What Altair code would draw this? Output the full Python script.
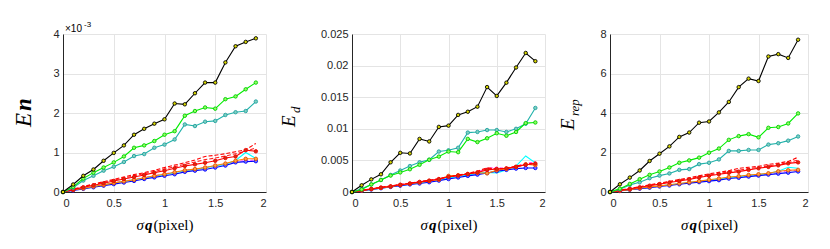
import altair as alt
import pandas as pd

xs = [round(0.1 * i, 1) for i in range(20)]

# Panel 1: En (x 1e-3)
en_black = [0, 0.19, 0.41, 0.57, 0.79, 0.99, 1.18, 1.45, 1.60, 1.73, 1.84, 2.24, 2.22, 2.50, 2.77, 2.77, 3.28, 3.69, 3.80, 3.89]
en_green = [0, 0.13, 0.34, 0.49, 0.62, 0.75, 0.90, 1.12, 1.18, 1.29, 1.45, 1.54, 1.93, 2.05, 2.14, 2.11, 2.35, 2.42, 2.60, 2.77]
en_teal = [0, 0.11, 0.29, 0.41, 0.54, 0.64, 0.76, 0.91, 0.96, 1.12, 1.20, 1.33, 1.71, 1.67, 1.78, 1.80, 1.95, 2.02, 2.05, 2.29]
en_reddash1 = [0, 0.07, 0.14, 0.20, 0.26, 0.32, 0.38, 0.44, 0.49, 0.55, 0.62, 0.68, 0.74, 0.81, 0.90, 0.93, 0.97, 1.02, 1.07, 1.23]
en_reddash2 = [0, 0.06, 0.13, 0.19, 0.24, 0.30, 0.35, 0.41, 0.46, 0.52, 0.58, 0.64, 0.70, 0.76, 0.82, 0.86, 0.91, 0.97, 1.03, 1.12]
en_red = [0, 0.06, 0.12, 0.17, 0.22, 0.28, 0.33, 0.38, 0.43, 0.49, 0.54, 0.60, 0.66, 0.70, 0.74, 0.79, 0.86, 0.90, 1.06, 1.03]
en_orange = [0, 0.05, 0.09, 0.14, 0.18, 0.23, 0.27, 0.31, 0.36, 0.41, 0.45, 0.50, 0.55, 0.58, 0.62, 0.67, 0.72, 0.79, 0.84, 0.84]
en_cyan = [0, 0.05, 0.09, 0.14, 0.18, 0.22, 0.27, 0.31, 0.35, 0.40, 0.44, 0.49, 0.54, 0.57, 0.61, 0.66, 0.70, 0.80, 1.00, 0.85]
en_magenta = [0, 0.05, 0.10, 0.14, 0.19, 0.23, 0.28, 0.32, 0.37, 0.41, 0.46, 0.50, 0.55, 0.58, 0.62, 0.66, 0.71, 0.77, 0.80, 0.81]
en_blue = [0, 0.04, 0.08, 0.12, 0.16, 0.20, 0.24, 0.28, 0.33, 0.37, 0.41, 0.45, 0.51, 0.54, 0.57, 0.62, 0.67, 0.75, 0.77, 0.78]

# Panel 2: Ed
ed_black = [0, 0.00106, 0.0020, 0.0028, 0.0047, 0.0062, 0.0061, 0.0084, 0.0080, 0.0103, 0.0105, 0.0122, 0.0127, 0.0135, 0.0166, 0.0152, 0.0173, 0.0197, 0.0220, 0.0207]
ed_teal = [0, 0.0005, 0.0012, 0.0019, 0.0027, 0.0034, 0.0041, 0.0047, 0.0051, 0.0064, 0.0066, 0.0070, 0.0094, 0.0095, 0.0098, 0.0098, 0.0095, 0.0100, 0.0108, 0.0133]
ed_green = [0, 0.0004, 0.0012, 0.0019, 0.0026, 0.0031, 0.0036, 0.0043, 0.0051, 0.0056, 0.0064, 0.0063, 0.0084, 0.0079, 0.0085, 0.0093, 0.0089, 0.0095, 0.0109, 0.0110]
ed_reddash1 = [0, 0.00025, 0.0005, 0.00075, 0.00095, 0.0012, 0.0014, 0.00165, 0.00185, 0.0021, 0.00245, 0.00265, 0.00295, 0.0033, 0.00385, 0.0036, 0.0038, 0.0041, 0.0044, 0.0046]
ed_reddash2 = [0, 0.00024, 0.00048, 0.0007, 0.00092, 0.00115, 0.00138, 0.0016, 0.0018, 0.00205, 0.0024, 0.0026, 0.0029, 0.0032, 0.0037, 0.0037, 0.0037, 0.004, 0.0043, 0.0045]
ed_red = [0, 0.00025, 0.0005, 0.0007, 0.0009, 0.00115, 0.00135, 0.0016, 0.0018, 0.00205, 0.0024, 0.0026, 0.00285, 0.0031, 0.0035, 0.00365, 0.00375, 0.004, 0.0043, 0.0045]
ed_orange = [0, 0.00025, 0.00045, 0.00065, 0.00085, 0.0011, 0.0013, 0.0015, 0.00175, 0.00195, 0.00255, 0.00265, 0.00285, 0.00305, 0.00295, 0.00345, 0.00365, 0.00395, 0.0044, 0.00425]
ed_cyan = [0, 0.00022, 0.00042, 0.00062, 0.00082, 0.00105, 0.00125, 0.00145, 0.00165, 0.0019, 0.0022, 0.00245, 0.0027, 0.00295, 0.0031, 0.003, 0.0035, 0.0041, 0.0057, 0.0046]
ed_magenta = [0, 0.00024, 0.00046, 0.00068, 0.0009, 0.00115, 0.00137, 0.0016, 0.0018, 0.00205, 0.00235, 0.0026, 0.00285, 0.00315, 0.00375, 0.0039, 0.0037, 0.004, 0.0045, 0.0048]
ed_blue = [0, 0.0002, 0.0004, 0.0006, 0.0008, 0.001, 0.0012, 0.00135, 0.00155, 0.0018, 0.00205, 0.0023, 0.00255, 0.00275, 0.003, 0.0033, 0.0035, 0.0037, 0.0038, 0.0038]

# Panel 3: Erep
er_black = [0, 0.39, 0.73, 1.09, 1.57, 1.94, 2.31, 2.79, 3.01, 3.51, 3.57, 4.03, 4.56, 5.31, 5.74, 5.62, 6.86, 6.98, 6.79, 7.71]
er_green = [0, 0.17, 0.41, 0.65, 0.87, 1.04, 1.24, 1.48, 1.60, 1.74, 1.99, 2.20, 2.64, 2.83, 2.93, 2.77, 3.25, 3.29, 3.47, 3.98]
er_teal = [0, 0.14, 0.36, 0.49, 0.70, 0.83, 0.94, 1.12, 1.16, 1.41, 1.48, 1.65, 2.08, 2.08, 2.13, 2.13, 2.40, 2.47, 2.60, 2.81]
er_reddash1 = [0, 0.09, 0.18, 0.27, 0.36, 0.45, 0.54, 0.63, 0.72, 0.82, 0.92, 1.00, 1.08, 1.20, 1.25, 1.30, 1.40, 1.46, 1.55, 1.76]
er_reddash2 = [0, 0.09, 0.17, 0.26, 0.34, 0.43, 0.51, 0.60, 0.68, 0.77, 0.86, 0.94, 1.02, 1.10, 1.18, 1.24, 1.32, 1.40, 1.48, 1.62]
er_red = [0, 0.08, 0.16, 0.24, 0.32, 0.40, 0.48, 0.56, 0.64, 0.73, 0.82, 0.90, 0.97, 1.03, 1.12, 1.20, 1.27, 1.35, 1.45, 1.50]
er_orange = [0, 0.06, 0.12, 0.19, 0.25, 0.31, 0.37, 0.43, 0.49, 0.55, 0.62, 0.68, 0.76, 0.80, 0.86, 0.90, 0.95, 1.05, 1.10, 1.12]
er_cyan = [0, 0.06, 0.12, 0.18, 0.24, 0.30, 0.36, 0.42, 0.48, 0.54, 0.60, 0.66, 0.73, 0.78, 0.84, 0.88, 0.94, 1.05, 1.25, 1.20]
er_magenta = [0, 0.06, 0.11, 0.17, 0.23, 0.29, 0.34, 0.40, 0.46, 0.52, 0.58, 0.64, 0.71, 0.75, 0.81, 0.86, 0.92, 1.00, 1.08, 1.10]
er_blue = [0, 0.05, 0.11, 0.17, 0.22, 0.28, 0.33, 0.39, 0.45, 0.50, 0.55, 0.60, 0.68, 0.72, 0.78, 0.83, 0.88, 0.93, 0.98, 1.04]

x_ticks = [0, 0.5, 1, 1.5, 2]
en_ticks = [0, 1, 2, 3, 4]
ed_ticks = [0, 0.005, 0.01, 0.015, 0.02, 0.025]
er_ticks = [0, 2, 4, 6, 8]

# style per series: (line color, dash, marker stroke, marker fill)
STYLES = {
    "magenta": ("#ff40ff", [3, 2], None, None),
    "cyan": ("#00ffff", None, None, None),
    "blue": ("#0000ff", None, "#0000ff", "#7070ff"),
    "orange": ("#ff8000", None, "#e05000", "#ffa040"),
    "reddash2": ("#ff2020", [4, 2], None, None),
    "reddash1": ("#ff0000", [4, 2], None, None),
    "red": ("#ff0000", None, "#ee0000", "#d03010"),
    "teal": ("#20b2aa", None, "#20a0a0", "#80d0c0"),
    "green": ("#00ee00", None, "#00cc00", "#90ff60"),
    "black": ("#000000", None, "#000000", "#d8d800"),
}
ORDER = ["magenta", "cyan", "blue", "orange", "reddash2", "reddash1", "red", "teal", "green", "black"]

PANELS = [
    {"series": {"black": en_black, "green": en_green, "teal": en_teal, "reddash1": en_reddash1,
                "reddash2": en_reddash2, "red": en_red, "orange": en_orange, "cyan": en_cyan,
                "magenta": en_magenta, "blue": en_blue},
     "ticks": en_ticks, "w": 203},
    {"series": {"black": ed_black, "green": ed_green, "teal": ed_teal, "reddash1": ed_reddash1,
                "reddash2": ed_reddash2, "red": ed_red, "orange": ed_orange, "cyan": ed_cyan,
                "magenta": ed_magenta, "blue": ed_blue},
     "ticks": ed_ticks, "w": 193},
    {"series": {"black": er_black, "green": er_green, "teal": er_teal, "reddash1": er_reddash1,
                "reddash2": er_reddash2, "red": er_red, "orange": er_orange, "cyan": er_cyan,
                "magenta": er_magenta, "blue": er_blue},
     "ticks": er_ticks, "w": 198},
]

H = 158
AX = "#262626"


def enc(ticks):
    x = alt.X("x:Q", scale=alt.Scale(domain=[0, 2], nice=False),
              axis=alt.Axis(values=x_ticks, format="~g", title=None))
    y = alt.Y("y:Q", scale=alt.Scale(domain=[ticks[0], ticks[-1]], nice=False),
              axis=alt.Axis(values=ticks, format="~g", title=None))
    return x, y


def txt(text, x, y, size, style="normal", weight="normal", font="Liberation Serif",
        angle=0, align="left", baseline="alphabetic"):
    kw = dict(text=text, fontSize=size, fontStyle=style, fontWeight=weight, font=font,
              align=align, baseline=baseline, color="#000000")
    if angle:
        kw["angle"] = angle
    return alt.Chart(pd.DataFrame({"k": [0]})).mark_text(**kw).encode(
        x=alt.value(x), y=alt.value(y))


def build(p, idx):
    x, y = enc(p["ticks"])
    layers = []
    for name in ORDER:
        col, dash, ms, mf = STYLES[name]
        df = pd.DataFrame({"x": xs, "y": p["series"][name]})
        lk = dict(color=col, strokeWidth=1.1, clip=True)
        if dash:
            lk["strokeDash"] = dash
        layers.append(alt.Chart(df).mark_line(**lk).encode(x=x, y=y))
        if ms:
            layers.append(alt.Chart(df).mark_circle(size=12, fill=mf, stroke=ms, strokeWidth=0.9,
                                                      opacity=1).encode(x=x, y=y))
    w = p["w"]
    # x axis title: sigma q (pixel)
    x0 = w / 2 - 28
    yb = H + 38
    layers.append(txt("σ", x0, yb, 15, style="italic"))
    layers.append(txt("q", x0 + 8.5, yb, 15, style="italic", weight="bold"))
    layers.append(txt("(pixel)", x0 + 17, yb, 15))
    if idx == 0:
        layers.append(txt("E", -32, 93, 23, style="italic", angle=270))
        layers.append(txt("n", -32, 77, 23, style="italic", weight="bold", angle=270))
        layers.append(txt("×10", 2, -2, 10, font="Liberation Sans"))
        layers.append(txt("-3", 21, -7, 8, font="Liberation Sans"))
    elif idx == 1:
        layers.append(txt("E", -57, 93, 19, style="italic", angle=270))
        layers.append(txt("d", -52, 79, 13, style="italic", angle=270))
    else:
        layers.append(txt("E", -36, 96, 19, style="italic", angle=270))
        layers.append(txt("rep", -31, 82, 13, style="italic", angle=270))
    return alt.layer(*layers).properties(width=w, height=H)


charts = [build(p, i) for i, p in enumerate(PANELS)]
chart = alt.hconcat(*charts, spacing=14).properties(
    padding={"left": 5, "top": 13, "right": 5, "bottom": 5}
).configure_view(stroke=None).configure_axis(
    labelFont="Liberation Sans", labelFontSize=11, labelColor=AX,
    domainColor=AX, domainWidth=1, ticks=False, labelPadding=4,
    gridColor="#e4e4e4", gridWidth=1,
).configure_axisX(labelPadding=5)

chart.save("out.html", embed_options={"renderer": "svg", "actions": False})
